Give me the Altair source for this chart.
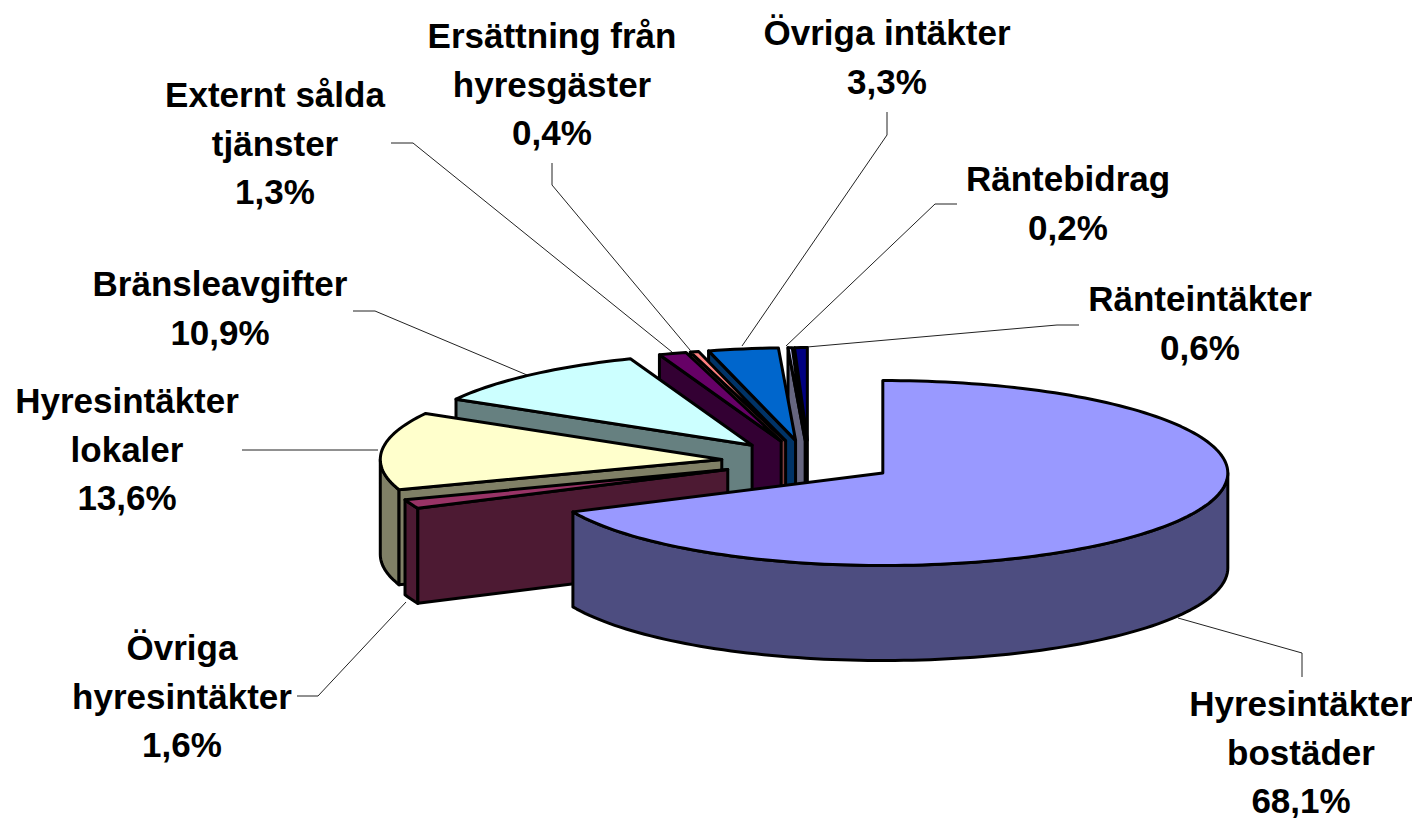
import math
import altair as alt

categories = ["Hyresintäkter\nbostäder", "Övriga\nhyresintäkter", "Hyresintäkter\nlokaler", "Bränsleavgifter",
              "Externt sålda\ntjänster", "Ersättning från\nhyresgäster", "Övriga intäkter", "Räntebidrag", "Ränteintäkter"]
shares = [68.1, 1.6, 13.6, 10.9, 1.3, 0.4, 3.3, 0.2, 0.6]
share_text = ["68,1%", "1,6%", "13,6%", "10,9%", "1,3%", "0,4%", "3,3%", "0,2%", "0,6%"]
top_colors = ["#9999FF", "#993366", "#FFFFCC", "#CCFFFF", "#660066", "#FF8080", "#0066CC", "#CCCCFF", "#000080"]
wall_colors = ["#4D4D80", "#4D1A33", "#808066", "#668080", "#330033", "#804040", "#003366", "#666680", "#000040"]

# label first-line centres (page pixels)
label_x = [1301, 182, 127, 220, 275, 552, 887, 1068, 1200]
label_y = [705, 649, 402, 285, 96, 37, 34, 180, 300]
# leader lines (page pixels)
leaders = [
    [(1178, 618), (1302, 653), (1302, 677)],
    [(297, 696), (318, 696), (406, 602)],
    [(242, 450), (378, 450)],
    [(353, 311), (375, 311), (527, 375)],
    [(391, 143), (413, 143), (672, 352)],
    [(552, 163), (552, 185), (690, 350)],
    [(887, 112), (887, 135), (742, 346)],
    [(957, 204), (935, 204), (786, 346)],
    [(1079, 325), (1057, 325), (807, 347)],
]

M = 8
CX, CY, RX, RX_LEFT, RY, DEPTH = 809 - M, 461.5 - M, 345, 341.5, 92.5, 95
EX, EY = 87.6, 21.4


def pt(c, deg, dy=0):
    r = math.radians(deg)
    s = math.sin(r)
    return [c[0] + (RX if s >= 0 else RX_LEFT) * s, c[1] - RY * math.cos(r) + dy]


def arc(c, a, b, dy=0):
    n = max(2, int(abs(b - a) / 1.5) + 2)
    return [pt(c, a + (b - a) * k / (n - 1), dy) for k in range(n)]


def feature(ring, fill):
    ring = [list(p) for p in ring]
    ring.append(ring[0])
    return {"type": "Feature", "fill": fill, "properties": {},
            "geometry": {"type": "Polygon", "coordinates": [ring]}}


def quad(c, deg, fill):
    a = list(c)
    p = pt(c, deg)
    return feature([a, p, [p[0], p[1] + DEPTH], [a[0], a[1] + DEPTH]], fill)


spans = []
acc = 0.0
for s in shares:
    spans.append((acc * 3.6, (acc + s) * 3.6))
    acc += s

faces = []
for i in reversed(range(len(shares))):
    a, b = spans[i]
    m = math.radians((a + b) / 2)
    c = (CX + EX * math.sin(m), CY - EY * math.cos(m))
    lo, hi = max(a, 90), min(b, 270)
    if lo < hi:
        faces.append(feature(arc(c, lo, hi) + arc(c, hi, lo, DEPTH), wall_colors[i]))
    if math.sin(math.radians(a)) < -1e-6:
        faces.append(quad(c, a, wall_colors[i]))
    if math.sin(math.radians(b)) > 1e-6:
        faces.append(quad(c, b, wall_colors[i]))
    faces.append(feature([list(c)] + arc(c, a, b), top_colors[i]))

lines = [{"type": "Feature", "properties": {},
          "geometry": {"type": "LineString", "coordinates": [[x - M, y - M] for x, y in pts]}}
         for pts in leaders]
labels = [{"t": f"{n}\n{p}", "lon": x - M, "lat": y - M}
          for n, p, x, y in zip(categories, share_text, label_x, label_y)]

proj = alt.Projection(type="identity", scale=1, translate=[0, 0])

pie = alt.Chart(alt.Data(values=faces)).mark_geoshape(
    stroke="black", strokeWidth=3, strokeJoin="round"
).encode(fill=alt.Fill("fill:N", scale=None)).project(**proj.to_dict())

leader = alt.Chart(alt.Data(values=lines)).mark_geoshape(
    filled=False, stroke="#222222", strokeWidth=1
).project(**proj.to_dict())

text = alt.Chart(alt.Data(values=labels)).mark_text(
    font="Liberation Sans", fontWeight="bold", fontSize=35, color="black",
    lineBreak="\n", lineHeight=48.5, align="center", baseline="middle"
).encode(longitude="lon:Q", latitude="lat:Q", text="t:N").project(**proj.to_dict())

chart = alt.layer(leader, pie, text).properties(
    width=1404, height=810, padding=0, background="white",
    autosize=alt.AutoSizeParams(type="none")
).configure_view(stroke=None)

chart.save("out.html", embed_options={"renderer": "svg", "actions": False})
